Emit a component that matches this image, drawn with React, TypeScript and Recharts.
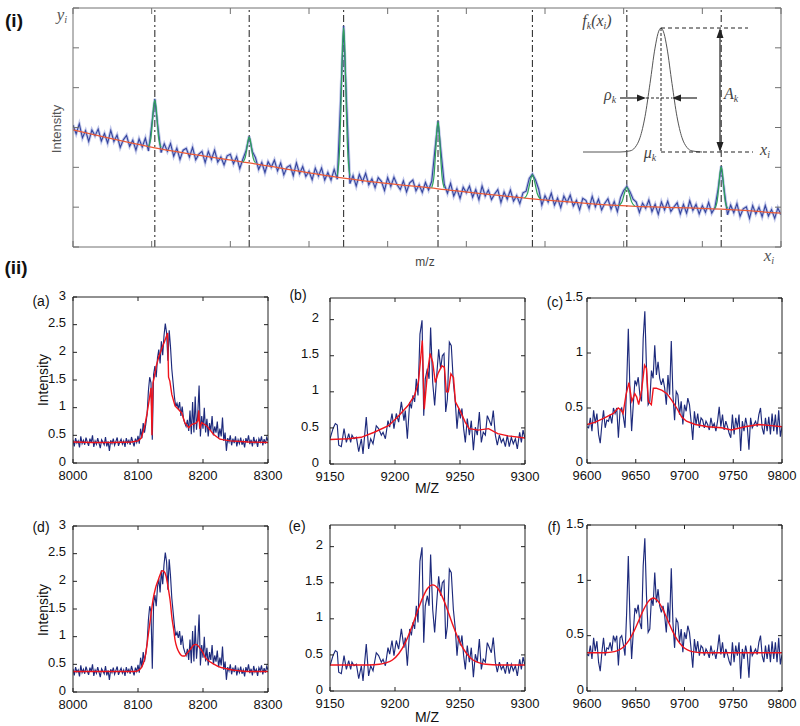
import React from 'react';
import { LineChart, Line, XAxis, YAxis, ReferenceLine, ReferenceDot } from 'recharts';

// ---------------- Panel (i): overview spectrum ----------------
const TOP_X0 = 0;
const TOP_STEP = 0.04;
const topBlue = [
  3.06, 2.84, 3.09, 2.74, 2.92, 2.65, 2.94, 2.79, 2.96, 2.66,
  2.85, 2.61, 2.93, 2.65, 2.81, 2.50, 2.69, 2.80, 2.53, 2.68,
  2.43, 2.71, 2.51, 2.73, 2.41, 3.05, 3.72, 3.00, 2.37, 2.59,
  2.40, 2.60, 2.28, 2.48, 2.20, 2.43, 2.48, 2.26, 2.50, 2.19,
  2.33, 2.40, 2.12, 2.40, 2.20, 2.43, 2.13, 2.26, 2.06, 2.29,
  2.33, 2.09, 2.27, 1.97, 2.21, 2.42, 2.78, 2.40, 2.24, 1.95,
  2.12, 1.87, 2.14, 2.00, 2.18, 1.91, 2.11, 1.81, 2.00, 2.05,
  1.79, 2.11, 1.84, 2.02, 1.77, 1.90, 1.69, 1.98, 1.78, 1.98,
  1.68, 1.87, 1.68, 1.95, 1.70, 3.60, 5.55, 3.50, 1.59, 1.79,
  1.53, 1.82, 1.64, 1.85, 1.56, 1.71, 1.49, 1.74, 1.65, 1.42,
  1.74, 1.52, 1.75, 1.56, 1.44, 1.66, 1.38, 1.61, 1.68, 1.41,
  1.56, 1.37, 1.62, 1.43, 1.65, 2.42, 3.16, 2.35, 1.57, 1.35,
  1.60, 1.28, 1.46, 1.22, 1.50, 1.36, 1.53, 1.25, 1.44, 1.19,
  1.53, 1.28, 1.43, 1.19, 1.33, 1.44, 1.12, 1.38, 1.20, 1.43,
  1.15, 1.29, 1.09, 1.36, 1.40, 1.72, 1.83, 1.68, 1.45, 1.05,
  1.29, 1.13, 1.35, 1.05, 1.23, 0.99, 1.28, 1.12, 1.30, 1.03,
  1.17, 0.93, 1.22, 1.17, 0.97, 1.27, 1.01, 1.20, 0.93, 1.10,
  1.21, 0.95, 1.14, 0.89, 1.24, 1.42, 1.52, 1.39, 1.20, 1.13,
  0.87, 1.10, 0.97, 1.18, 0.89, 1.07, 0.82, 1.13, 0.93, 1.15,
  0.89, 1.01, 1.11, 0.83, 1.07, 0.85, 1.16, 0.92, 1.07, 0.83,
  1.04, 0.87, 1.12, 0.85, 0.99, 1.45, 2.03, 1.40, 0.81, 1.05,
  0.86, 1.09, 0.77, 0.96, 1.01, 0.72, 1.04, 0.83, 1.00, 0.76,
  1.04, 0.78, 0.94, 0.72, 0.98, 0.81,
];
const topRedX = [0, 1.04, 2.24, 3.44, 4.64, 5.84, 7.04, 8.24, 9];
const topRedY = [2.94, 2.49, 2.11, 1.73, 1.46, 1.21, 1.03, 0.95, 0.85];
const peakCenters = [1.04, 2.24, 3.44, 4.64, 5.84, 7.04, 8.24];
const narrowOffsets = [-0.08, -0.05, -0.03, -0.015, 0, 0.015, 0.03, 0.05, 0.08];
const wideOffsets = [-0.1, -0.06, -0.03, 0, 0.03, 0.06, 0.1];
const peakOffsets = [narrowOffsets, narrowOffsets, narrowOffsets, narrowOffsets, wideOffsets, wideOffsets, narrowOffsets];
const peakModels = [
  [2.52, 2.74, 3.18, 3.53, 3.69, 3.53, 3.17, 2.72, 2.50],
  [2.13, 2.25, 2.48, 2.67, 2.76, 2.67, 2.47, 2.24, 2.11],
  [1.80, 2.50, 3.85, 5.00, 5.50, 4.99, 3.85, 2.49, 1.79],
  [1.49, 1.80, 2.41, 2.92, 3.14, 2.91, 2.40, 1.79, 1.48],
  [1.23, 1.36, 1.63, 1.81, 1.62, 1.35, 1.21],
  [1.04, 1.14, 1.35, 1.50, 1.35, 1.14, 1.03],
  [0.97, 1.17, 1.55, 1.87, 2.01, 1.87, 1.55, 1.16, 0.97],
];
const TOP_XTICKS = [0, 1, 2, 3, 4, 5, 6, 7, 8, 9];
const TOP_YTICKS = [0, 1, 2, 3, 4, 5, 6];

// inset: Gaussian peak model f_k(x_i)
const insetX = [23, 60, 70, 75, 80, 85, 90, 95, 98, 101, 104, 107, 112, 117, 122, 127, 132, 142];
const insetY = [13, 13, 14.1, 17.5, 27.3, 48.3, 81.5, 116.9, 131.6, 137, 131.6, 116.9, 81.5, 48.3, 27.3, 17.5, 14.1, 13];

// ---------------- Panel (ii): zoomed peaks ----------------
const A_X0 = 8000;
const A_STEP = 2;
const blueA = [
  0.42, 0.30, 0.45, 0.36, 0.40, 0.28, 0.48, 0.35, 0.41, 0.33,
  0.46, 0.38, 0.31, 0.44, 0.37, 0.50, 0.29, 0.40, 0.34, 0.45,
  0.36, 0.27, 0.42, 0.38, 0.33, 0.47, 0.30, 0.39, 0.22, 0.41,
  0.35, 0.44, 0.32, 0.39, 0.46, 0.31, 0.38, 0.43, 0.34, 0.40,
  0.29, 0.45, 0.36, 0.41, 0.33, 0.47, 0.38, 0.30, 0.44, 0.37,
  0.49, 0.35, 0.62, 0.45, 0.72, 0.55, 0.70, 0.88, 1.30, 1.55,
  1.45, 0.42, 1.60, 1.75, 1.55, 1.90, 2.05, 1.80, 2.20, 1.95,
  2.30, 2.52, 2.35, 1.85, 2.40, 2.10, 1.70, 1.45, 1.20, 1.02,
  1.08, 0.98, 1.10, 0.85, 1.02, 0.80, 0.72, 0.66, 0.78, 0.58,
  0.95, 0.52, 1.10, 0.55, 1.20, 0.60, 0.90, 1.40, 0.48, 0.85,
  0.62, 1.00, 0.55, 0.80, 0.48, 0.72, 0.58, 0.85, 0.50, 0.66,
  0.55, 0.75, 0.45, 0.62, 0.48, 0.82, 0.40, 0.55, 0.22, 0.45,
  0.38, 0.50, 0.32, 0.44, 0.36, 0.48, 0.30, 0.42, 0.35, 0.46,
  0.33, 0.40, 0.28, 0.45, 0.37, 0.50, 0.34, 0.42, 0.30, 0.47,
  0.36, 0.41, 0.29, 0.44, 0.38, 0.48, 0.32, 0.43, 0.35, 0.46,
  0.40,
];
const redAX = [8000, 8030, 8060, 8090, 8100, 8105, 8110, 8114, 8118, 8120, 8121.5, 8123, 8125, 8128, 8132, 8136, 8141, 8144, 8145.5, 8147, 8149, 8152, 8157, 8162, 8167, 8172, 8178, 8183, 8189, 8192, 8193.5, 8195, 8198, 8206, 8216, 8226, 8242, 8270, 8300];
const redAY = [0.38, 0.37, 0.37, 0.38, 0.40, 0.45, 0.65, 0.90, 1.20, 1.36, 0.50, 1.45, 1.55, 1.75, 1.92, 2.05, 2.20, 2.30, 2.35, 1.55, 1.48, 1.24, 1.03, 0.97, 0.91, 0.73, 0.64, 0.70, 0.72, 0.76, 0.95, 0.62, 0.73, 0.67, 0.52, 0.43, 0.40, 0.38, 0.37];
const redDX = [8000, 8050, 8095, 8102, 8108, 8112, 8116, 8120, 8123, 8127, 8131, 8134, 8137, 8140, 8143, 8147, 8150, 8152, 8155, 8157, 8160, 8163, 8166, 8169, 8172, 8175, 8179, 8183, 8186, 8189, 8192, 8196, 8200, 8203, 8208, 8216, 8226, 8237, 8250, 8257, 8280, 8300];
const redDY = [0.37, 0.37, 0.37, 0.40, 0.51, 0.70, 1.05, 1.40, 1.66, 1.88, 2.02, 2.12, 2.19, 2.18, 2.10, 1.84, 1.60, 1.36, 1.12, 0.94, 0.80, 0.72, 0.67, 0.65, 0.65, 0.69, 0.75, 0.81, 0.85, 0.86, 0.84, 0.78, 0.71, 0.63, 0.57, 0.51, 0.45, 0.42, 0.39, 0.38, 0.37, 0.37];

const blueBX = [
  9150, 9152.3, 9154.1, 9155.6, 9156.7, 9158.7, 9160.8, 9162.6, 9164.4, 9165.9,
  9166.9, 9168.5, 9170.3, 9172.1, 9174.1, 9175.4, 9177.9, 9179.7, 9181.3, 9183.1,
  9185.6, 9187.4, 9189.5, 9190.8, 9192.6, 9194.6, 9195.9, 9197.7, 9199.2, 9201,
  9202.8, 9204.9, 9206.9, 9207.9, 9209.5, 9211.3, 9212.6, 9213.8, 9215.1, 9216.4,
  9217.7, 9219.2, 9220.8, 9222.1, 9223.3, 9224.9, 9226.2, 9227.4, 9229, 9230.5,
  9232.1, 9233.6, 9235.1, 9236.4, 9237.7, 9239, 9240.3, 9241.8, 9243.3, 9244.9,
  9246.4, 9247.7, 9249, 9250.3, 9251.5, 9252.8, 9254.1, 9255.6, 9257.2, 9258.7,
  9260.3, 9261.8, 9263.3, 9264.9, 9266.4, 9267.9, 9269.5, 9271, 9272.6, 9274.1,
  9275.6, 9277.2, 9278.7, 9280.3, 9281.8, 9283.3, 9284.9, 9286.4, 9287.9, 9289.5,
  9291, 9292.6, 9294.1, 9295.9, 9297.2, 9298.5, 9300,
];
const blueBY = [
  0.35, 0.49, 0.56, 0.54, 0.26, 0.24, 0.49, 0.30, 0.42, 0.30,
  0.40, 0.35, 0.37, 0.17, 0.35, 0.14, 0.65, 0.21, 0.35, 0.28,
  0.53, 0.49, 0.40, 0.44, 0.35, 0.60, 0.51, 0.70, 0.49, 0.70,
  0.58, 0.86, 0.60, 0.74, 0.35, 0.86, 0.77, 0.95, 0.86, 1.18,
  0.95, 1.80, 1.99, 0.67, 1.18, 1.32, 1.18, 1.89, 1.13, 0.81,
  1.23, 1.59, 1.32, 1.50, 1.53, 0.72, 0.90, 1.69, 1.64, 1.13,
  0.86, 0.49, 0.77, 0.63, 0.77, 0.49, 0.30, 0.63, 0.40, 0.60,
  0.19, 0.51, 0.40, 0.72, 0.30, 0.44, 0.40, 0.67, 0.60, 0.53,
  0.74, 0.40, 0.26, 0.40, 0.30, 0.35, 0.24, 0.40, 0.24, 0.37,
  0.28, 0.35, 0.21, 0.44, 0.30, 0.47, 0.35,
];
const redBX = [9150, 9164, 9174, 9184, 9195, 9202, 9210, 9215, 9218, 9221, 9222.5, 9225, 9227, 9229, 9231, 9233, 9236, 9238, 9239.5, 9241, 9243, 9245, 9246.5, 9250, 9254, 9257, 9264, 9272, 9279, 9287, 9300];
const redBY = [0.34, 0.35, 0.37, 0.44, 0.53, 0.65, 0.81, 0.95, 1.13, 1.71, 0.76, 1.27, 1.53, 1.41, 1.13, 1.25, 1.36, 1.34, 1.00, 1.00, 1.25, 1.20, 0.86, 0.74, 0.58, 0.49, 0.47, 0.49, 0.42, 0.39, 0.36];
const redEX = [9150, 9180, 9188, 9193, 9198, 9203, 9208, 9213, 9217, 9221, 9225, 9229, 9233, 9237, 9241, 9245, 9250, 9255, 9260, 9265, 9270, 9280, 9300];
const redEY = [0.36, 0.36, 0.37, 0.39, 0.43, 0.52, 0.67, 0.89, 1.09, 1.28, 1.42, 1.47, 1.42, 1.28, 1.09, 0.89, 0.67, 0.52, 0.43, 0.39, 0.37, 0.36, 0.36];

const C_X0 = 9600;
const C_X1 = 9800;
const blueC = [
  0.33, 0.32, 0.41, 0.29, 0.48, 0.36, 0.45, 0.26, 0.18, 0.35,
  0.48, 0.32, 0.39, 0.38, 0.44, 0.36, 0.50, 0.45, 0.50, 0.23,
  0.48, 0.50, 0.42, 0.32, 0.71, 1.22, 0.65, 0.29, 0.53, 0.75,
  0.71, 0.78, 0.62, 0.56, 1.13, 1.38, 0.86, 0.53, 0.56, 0.84,
  0.77, 1.07, 0.80, 0.92, 0.77, 0.71, 0.77, 0.68, 0.53, 0.80,
  0.62, 1.11, 0.62, 0.39, 0.65, 0.62, 0.44, 0.56, 0.35, 0.53,
  0.47, 0.59, 0.53, 0.38, 0.21, 0.47, 0.35, 0.45, 0.32, 0.41,
  0.39, 0.32, 0.38, 0.35, 0.30, 0.41, 0.33, 0.36, 0.29, 0.38,
  0.51, 0.33, 0.44, 0.30, 0.38, 0.33, 0.27, 0.23, 0.44, 0.26,
  0.41, 0.32, 0.44, 0.11, 0.38, 0.29, 0.41, 0.33, 0.12, 0.41,
  0.32, 0.35, 0.38, 0.33, 0.44, 0.50, 0.32, 0.26, 0.41, 0.29,
  0.42, 0.26, 0.45, 0.29, 0.44, 0.26, 0.48, 0.24, 0.33,
];
const redCX = [9600, 9608, 9618, 9627, 9632, 9635, 9637, 9640, 9643, 9646, 9649, 9651, 9653, 9656, 9659, 9661, 9663, 9666, 9668, 9671, 9677, 9682, 9687, 9692, 9697, 9702, 9711, 9724, 9738, 9748, 9762, 9776, 9789, 9800];
const redCY = [0.35, 0.37, 0.41, 0.45, 0.50, 0.48, 0.45, 0.62, 0.73, 0.56, 0.63, 0.60, 0.53, 0.66, 0.89, 0.86, 0.56, 0.53, 0.68, 0.68, 0.66, 0.63, 0.57, 0.50, 0.42, 0.38, 0.35, 0.33, 0.32, 0.30, 0.33, 0.35, 0.34, 0.33];
const redFX = [9600, 9618, 9628, 9633, 9638, 9643, 9648, 9653, 9658, 9663, 9668, 9673, 9678, 9683, 9688, 9693, 9698, 9703, 9708, 9718, 9800];
const redFY = [0.345, 0.346, 0.356, 0.372, 0.403, 0.457, 0.536, 0.635, 0.735, 0.81, 0.84, 0.81, 0.735, 0.635, 0.536, 0.457, 0.403, 0.372, 0.356, 0.346, 0.345];

const A_XTICKS = [8000, 8100, 8200, 8300];
const A_YTICKS = [0, 0.5, 1, 1.5, 2, 2.5, 3];
const B_XTICKS = [9150, 9200, 9250, 9300];
const B_YTICKS = [0, 0.5, 1, 1.5, 2];
const C_XTICKS = [9600, 9650, 9700, 9750, 9800];
const C_YTICKS = [0, 0.5, 1, 1.5];

// ---------------- helpers ----------------
const SANS = '"Liberation Sans", Arial, Helvetica, sans-serif';
const SERIF = '"Liberation Serif", "DejaVu Serif", "Times New Roman", serif';

const pairs = (xs: number[], ys: number[]) => xs.map((x, i) => ({ x, y: ys[i] }));
const stepped = (x0: number, step: number, ys: number[]) => ys.map((y, i) => ({ x: x0 + i * step, y }));

const topBlueData = stepped(TOP_X0, TOP_STEP, topBlue);
const topRedData = pairs(topRedX, topRedY);
const greenData = peakCenters.map((c, k) => peakOffsets[k].map((o, j) => ({ x: c + o, y: peakModels[k][j] })));
const insetData = pairs(insetX, insetY);

const dataA = stepped(A_X0, A_STEP, blueA);
const dataC = stepped(C_X0, (C_X1 - C_X0) / (blueC.length - 1), blueC);
const dataB = pairs(blueBX, blueBY);

const noTick = () => <g />;

const arrowUp = (p: any) => <polygon points={`${p.cx},${p.cy} ${p.cx - 3.5},${p.cy + 10} ${p.cx + 3.5},${p.cy + 10}`} fill="#222" />;
const arrowDown = (p: any) => <polygon points={`${p.cx},${p.cy} ${p.cx - 3.5},${p.cy - 10} ${p.cx + 3.5},${p.cy - 10}`} fill="#222" />;
const arrowRight = (p: any) => <polygon points={`${p.cx},${p.cy} ${p.cx - 9},${p.cy - 3.5} ${p.cx - 9},${p.cy + 3.5}`} fill="#222" />;
const arrowLeft = (p: any) => <polygon points={`${p.cx},${p.cy} ${p.cx + 9},${p.cy - 3.5} ${p.cx + 9},${p.cy + 3.5}`} fill="#222" />;

function Txt(props: any) {
  const { x, y, size = 13, rot = 0, bold = false, color = '#111', family = SANS, italic = false, children } = props;
  return (
    <div
      style={{
        position: 'absolute', left: x, top: y, transform: `translate(-50%, -50%) rotate(${rot}deg)`,
        fontSize: size, fontWeight: bold ? 700 : 400, color, fontFamily: family,
        fontStyle: italic ? 'italic' : 'normal', whiteSpace: 'nowrap', lineHeight: 1,
      }}
    >
      {children}
    </div>
  );
}

function Sym(props: any) {
  return (
    <span>
      {props.base}
      <sub style={{ fontSize: '62%', verticalAlign: '-0.25em' }}>{props.sub}</sub>
      {props.tail}
    </span>
  );
}

const YW = 60;
const XH = 40;
const MT = 10;
const MR = 24;

function Panel(p: any) {
  const cw = p.width + YW + MR;
  const ch = p.height + MT + XH;
  const axisStroke = '#222';
  return (
    <div style={{ position: 'absolute', left: p.left - YW, top: p.top - MT }}>
      <LineChart width={cw} height={ch} margin={{ top: MT - 1, right: MR - 1, bottom: 0, left: 0 }}>
        <XAxis xAxisId="b" type="number" dataKey="x" domain={p.xDomain} ticks={p.xTicks} interval={0} allowDataOverflow
          height={XH} tickSize={-4} tickMargin={12} axisLine={{ stroke: axisStroke }} tickLine={{ stroke: axisStroke }}
          tick={{ fontSize: 13, fill: '#111', fontFamily: SANS }} />
        <XAxis xAxisId="t" orientation="top" type="number" dataKey="x" domain={p.xDomain} ticks={p.xTicks} interval={0} allowDataOverflow
          height={1} tickSize={-4} axisLine={{ stroke: axisStroke }} tickLine={{ stroke: axisStroke }} tick={noTick} />
        <YAxis yAxisId="l" type="number" domain={p.yDomain} ticks={p.yTicks} interval={0} allowDataOverflow
          width={YW} tickSize={-4} tickMargin={p.yMargin} axisLine={{ stroke: axisStroke }} tickLine={{ stroke: axisStroke }}
          tick={{ fontSize: 13, fill: '#111', fontFamily: SANS, dy: -2 }} />
        <YAxis yAxisId="r" orientation="right" type="number" domain={p.yDomain} ticks={p.yTicks} interval={0} allowDataOverflow
          width={1} tickSize={-4} axisLine={{ stroke: axisStroke }} tickLine={{ stroke: axisStroke }} tick={noTick} />
        <Line xAxisId="b" yAxisId="l" data={p.blue} dataKey="y" type="linear" stroke="#1d2a7c" strokeWidth={1.15}
          dot={false} isAnimationActive={false} />
        <Line xAxisId="b" yAxisId="l" data={p.red} dataKey="y" type={p.redType} stroke="#f0141c" strokeWidth={1.4}
          dot={false} isAnimationActive={false} />
      </LineChart>
    </div>
  );
}

function TopPanel() {
  const frame = '#707070';
  return (
    <div style={{ position: 'absolute', left: 0, top: 0 }}>
      <LineChart width={800} height={260} margin={{ top: 7, right: 18, bottom: 0, left: 0 }}>
        <XAxis xAxisId="ix" type="number" dataKey="x" domain={[-487, 221]} allowDataOverflow hide height={0} />
        <YAxis yAxisId="iy" type="number" domain={[-82, 157]} allowDataOverflow hide width={0} />
        <XAxis xAxisId="b" type="number" dataKey="x" domain={[0, 9]} ticks={TOP_XTICKS} interval={0} allowDataOverflow
          height={13} tickSize={-6} axisLine={{ stroke: frame }} tickLine={{ stroke: frame }} tick={noTick} />
        <XAxis xAxisId="t" orientation="top" type="number" dataKey="x" domain={[0, 9]} ticks={TOP_XTICKS} interval={0} allowDataOverflow
          height={1} tickSize={-6} axisLine={{ stroke: frame }} tickLine={{ stroke: frame }} tick={noTick} />
        <YAxis yAxisId="l" type="number" domain={[0, 6]} ticks={TOP_YTICKS} interval={0} allowDataOverflow
          width={73} tickSize={-6} axisLine={{ stroke: frame }} tickLine={{ stroke: frame }} tick={noTick} />
        <YAxis yAxisId="r" orientation="right" type="number" domain={[0, 6]} ticks={TOP_YTICKS} interval={0} allowDataOverflow
          width={1} tickSize={-6} axisLine={{ stroke: frame }} tickLine={{ stroke: frame }} tick={noTick} />

        {peakCenters.map((c) => (
          <ReferenceLine key={`v${c}`} xAxisId="b" yAxisId="l" x={c} stroke="#333" strokeWidth={1.1} strokeDasharray="7 3 2 3" />
        ))}

        <Line xAxisId="b" yAxisId="l" data={topBlueData} dataKey="y" type="linear" stroke="#8f9bd8" strokeWidth={3}
          strokeOpacity={0.55} dot={false} isAnimationActive={false} />
        <Line xAxisId="b" yAxisId="l" data={topBlueData} dataKey="y" type="linear" stroke="#34449e" strokeWidth={1.1}
          dot={false} isAnimationActive={false} />
        <Line xAxisId="b" yAxisId="l" data={topRedData} dataKey="y" type="monotone" stroke="#ec5a36" strokeWidth={1.2}
          dot={false} isAnimationActive={false} />
        {greenData.map((d, k) => (
          <Line key={`g${k}`} xAxisId="b" yAxisId="l" data={d} dataKey="y" type="monotone" stroke="#2fa35a" strokeWidth={1.2}
            dot={false} isAnimationActive={false} />
        ))}

        {/* inset schematic */}
        <Line xAxisId="ix" yAxisId="iy" data={insetData} dataKey="y" type="monotone" stroke="#555" strokeWidth={1}
          dot={false} isAnimationActive={false} />
        <ReferenceLine xAxisId="ix" yAxisId="iy" segment={[{ x: 101, y: 137 }, { x: 188, y: 137 }]} stroke="#222" strokeDasharray="4 3" ifOverflow="visible" />
        <ReferenceLine xAxisId="ix" yAxisId="iy" segment={[{ x: 101, y: 137 }, { x: 101, y: 13 }]} stroke="#222" strokeDasharray="3 2" ifOverflow="visible" />
        <ReferenceLine xAxisId="ix" yAxisId="iy" segment={[{ x: 101, y: 13 }, { x: 193, y: 13 }]} stroke="#222" strokeDasharray="4 3" ifOverflow="visible" />
        <ReferenceLine xAxisId="ix" yAxisId="iy" segment={[{ x: 160, y: 135 }, { x: 160, y: 15 }]} stroke="#222" strokeWidth={1.2} ifOverflow="visible" />
        <ReferenceLine xAxisId="ix" yAxisId="iy" segment={[{ x: 60, y: 67 }, { x: 84, y: 67 }]} stroke="#222" strokeWidth={1.2} ifOverflow="visible" />
        <ReferenceLine xAxisId="ix" yAxisId="iy" segment={[{ x: 86, y: 67 }, { x: 112, y: 67 }]} stroke="#222" strokeDasharray="3 2" ifOverflow="visible" />
        <ReferenceLine xAxisId="ix" yAxisId="iy" segment={[{ x: 114, y: 67 }, { x: 137, y: 67 }]} stroke="#222" strokeWidth={1.2} ifOverflow="visible" />
        <ReferenceDot xAxisId="ix" yAxisId="iy" x={160} y={137} r={4} shape={arrowUp} ifOverflow="visible" />
        <ReferenceDot xAxisId="ix" yAxisId="iy" x={160} y={13} r={4} shape={arrowDown} ifOverflow="visible" />
        <ReferenceDot xAxisId="ix" yAxisId="iy" x={86} y={67} r={4} shape={arrowRight} ifOverflow="visible" />
        <ReferenceDot xAxisId="ix" yAxisId="iy" x={112} y={67} r={4} shape={arrowLeft} ifOverflow="visible" />
      </LineChart>
    </div>
  );
}

export default function App() {
  return (
    <div style={{ position: 'absolute', left: 0, top: 0, width: 800, height: 726, background: '#fff', overflow: 'hidden' }}>
      <TopPanel />

      <Txt x={14} y={20} size={19} bold family={SANS}>(i)</Txt>
      <Txt x={16} y={267} size={19} bold family={SANS}>(ii)</Txt>
      <Txt x={62} y={16} size={17} italic family={SERIF} color="#555"><Sym base="y" sub="i" /></Txt>
      <Txt x={56} y={129} size={13} rot={-90} color="#555">Intensity</Txt>
      <Txt x={425} y={262} size={12} color="#444">m/z</Txt>
      <Txt x={769} y={257} size={17} italic family={SERIF} color="#555"><Sym base="x" sub="i" /></Txt>

      <Txt x={597} y={22} size={16} italic family={SERIF} color="#444"><Sym base="f" sub="k" tail={<span>(<Sym base="x" sub="i" />)</span>} /></Txt>
      <Txt x={610} y={96} size={16} italic family={SERIF} color="#444"><Sym base="ρ" sub="k" /></Txt>
      <Txt x={731} y={95} size={16} italic family={SERIF} color="#444"><Sym base="A" sub="k" /></Txt>
      <Txt x={650} y={154} size={16} italic family={SERIF} color="#444"><Sym base="μ" sub="k" /></Txt>
      <Txt x={765} y={151} size={16} italic family={SERIF} color="#444"><Sym base="x" sub="i" /></Txt>

      <Panel left={73} top={297} width={195} height={166} xDomain={[8000, 8300]} xTicks={A_XTICKS} yDomain={[0, 3]} yTicks={A_YTICKS}
        blue={dataA} red={pairs(redAX, redAY)} redType="linear" yMargin={11} />
      <Panel left={330} top={298} width={195} height={166} xDomain={[9150, 9300]} xTicks={B_XTICKS} yDomain={[0, 2.3]} yTicks={B_YTICKS}
        blue={dataB} red={pairs(redBX, redBY)} redType="linear" yMargin={15} />
      <Panel left={587} top={298} width={195} height={165} xDomain={[9600, 9800]} xTicks={C_XTICKS} yDomain={[0, 1.5]} yTicks={C_YTICKS}
        blue={dataC} red={pairs(redCX, redCY)} redType="linear" yMargin={8} />
      <Panel left={73} top={526} width={195} height={166} xDomain={[8000, 8300]} xTicks={A_XTICKS} yDomain={[0, 3]} yTicks={A_YTICKS}
        blue={dataA} red={pairs(redDX, redDY)} redType="monotone" yMargin={11} />
      <Panel left={330} top={525} width={195} height={166} xDomain={[9150, 9300]} xTicks={B_XTICKS} yDomain={[0, 2.3]} yTicks={B_YTICKS}
        blue={dataB} red={pairs(redEX, redEY)} redType="monotone" yMargin={11} />
      <Panel left={587} top={525} width={195} height={166} xDomain={[9600, 9800]} xTicks={C_XTICKS} yDomain={[0, 1.5]} yTicks={C_YTICKS}
        blue={dataC} red={pairs(redFX, redFY)} redType="monotone" yMargin={7} />

      <Txt x={41} y={301} size={14}>(a)</Txt>
      <Txt x={298} y={295} size={14}>(b)</Txt>
      <Txt x={555} y={302} size={14}>(c)</Txt>
      <Txt x={41} y={527} size={14}>(d)</Txt>
      <Txt x={297} y={526} size={14}>(e)</Txt>
      <Txt x={554} y={527} size={14}>(f)</Txt>
      <Txt x={43} y={380} size={14} rot={-90}>Intensity</Txt>
      <Txt x={43} y={610} size={14} rot={-90}>Intensity</Txt>
      <Txt x={427} y={488} size={14}>M/Z</Txt>
      <Txt x={427} y={717} size={14}>M/Z</Txt>
    </div>
  );
}
